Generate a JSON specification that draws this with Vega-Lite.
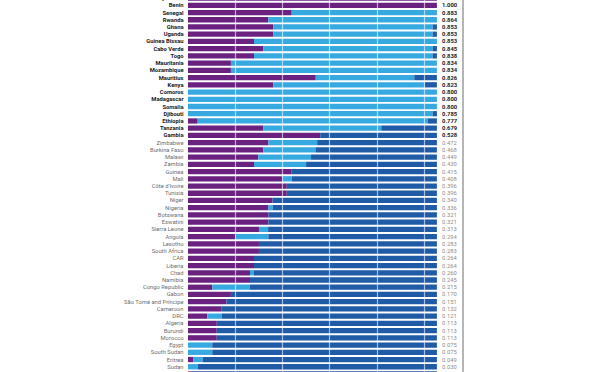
{
  "$schema": "https://vega.github.io/schema/vega-lite/v6.json",
  "width": 249,
  "height": 372,
  "autosize": {"type": "none"},
  "padding": {"left": 188, "right": 163, "top": 0, "bottom": 0},
  "background": "#ffffff",
  "config": {"view": {"stroke": null}},
  "data": {"values": [
    {"country": "Seychelles", "value": 1.000, "s1": 1.056, "s2": 0, "s3": 0},
    {"country": "Benin", "value": 1.000, "s1": 1.056, "s2": 0, "s3": 0},
    {"country": "Senegal", "value": 0.883, "s1": 0.440, "s2": 0.616, "s3": 0},
    {"country": "Rwanda", "value": 0.864, "s1": 0.341, "s2": 0.715, "s3": 0},
    {"country": "Ghana", "value": 0.853, "s1": 0.362, "s2": 0.676, "s3": 0.018},
    {"country": "Uganda", "value": 0.853, "s1": 0.362, "s2": 0.676, "s3": 0.018},
    {"country": "Guinea Bissau", "value": 0.853, "s1": 0.280, "s2": 0.776, "s3": 0},
    {"country": "Cabo Verde", "value": 0.845, "s1": 0.319, "s2": 0.719, "s3": 0.018},
    {"country": "Togo", "value": 0.838, "s1": 0.280, "s2": 0.758, "s3": 0.018},
    {"country": "Mauritania", "value": 0.834, "s1": 0.182, "s2": 0.874, "s3": 0},
    {"country": "Mozambique", "value": 0.834, "s1": 0.182, "s2": 0.874, "s3": 0},
    {"country": "Mauritius", "value": 0.826, "s1": 0.542, "s2": 0.418, "s3": 0.096},
    {"country": "Kenya", "value": 0.823, "s1": 0.362, "s2": 0.642, "s3": 0.052},
    {"country": "Comoros", "value": 0.800, "s1": 0, "s2": 1.056, "s3": 0},
    {"country": "Madagascar", "value": 0.800, "s1": 0, "s2": 1.056, "s3": 0},
    {"country": "Somalia", "value": 0.800, "s1": 0, "s2": 1.056, "s3": 0},
    {"country": "Djibouti", "value": 0.785, "s1": 0, "s2": 1.038, "s3": 0.018},
    {"country": "Ethiopia", "value": 0.777, "s1": 0.041, "s2": 0.977, "s3": 0.038},
    {"country": "Tanzania", "value": 0.679, "s1": 0.319, "s2": 0.501, "s3": 0.236},
    {"country": "Gambia", "value": 0.528, "s1": 0.561, "s2": 0, "s3": 0.495},
    {"country": "Zimbabwe", "value": 0.472, "s1": 0.341, "s2": 0.207, "s3": 0.508},
    {"country": "Burkina Faso", "value": 0.468, "s1": 0.319, "s2": 0.222, "s3": 0.515},
    {"country": "Malawi", "value": 0.449, "s1": 0.298, "s2": 0.224, "s3": 0.534},
    {"country": "Zambia", "value": 0.430, "s1": 0.280, "s2": 0.221, "s3": 0.555},
    {"country": "Guinea", "value": 0.415, "s1": 0.440, "s2": 0, "s3": 0.616},
    {"country": "Mali", "value": 0.408, "s1": 0.400, "s2": 0.040, "s3": 0.616},
    {"country": "Côte d'Ivoire", "value": 0.396, "s1": 0.419, "s2": 0, "s3": 0.637},
    {"country": "Tunisia", "value": 0.396, "s1": 0.419, "s2": 0, "s3": 0.637},
    {"country": "Niger", "value": 0.340, "s1": 0.359, "s2": 0, "s3": 0.697},
    {"country": "Nigeria", "value": 0.336, "s1": 0.341, "s2": 0.019, "s3": 0.696},
    {"country": "Botswana", "value": 0.321, "s1": 0.341, "s2": 0, "s3": 0.715},
    {"country": "Eswatini", "value": 0.321, "s1": 0.341, "s2": 0, "s3": 0.715},
    {"country": "Sierra Leone", "value": 0.313, "s1": 0.301, "s2": 0.039, "s3": 0.716},
    {"country": "Angola", "value": 0.294, "s1": 0.202, "s2": 0.139, "s3": 0.715},
    {"country": "Lesotho", "value": 0.283, "s1": 0.301, "s2": 0, "s3": 0.755},
    {"country": "South Africa", "value": 0.283, "s1": 0.301, "s2": 0, "s3": 0.755},
    {"country": "CAR", "value": 0.264, "s1": 0.280, "s2": 0, "s3": 0.776},
    {"country": "Liberia", "value": 0.264, "s1": 0.280, "s2": 0, "s3": 0.776},
    {"country": "Chad", "value": 0.260, "s1": 0.263, "s2": 0.017, "s3": 0.776},
    {"country": "Namibia", "value": 0.245, "s1": 0.263, "s2": 0, "s3": 0.793},
    {"country": "Congo Republic", "value": 0.215, "s1": 0.103, "s2": 0.160, "s3": 0.793},
    {"country": "Gabon", "value": 0.170, "s1": 0.182, "s2": 0, "s3": 0.874},
    {"country": "São Tomé and Príncipe", "value": 0.151, "s1": 0.163, "s2": 0, "s3": 0.893},
    {"country": "Cameroon", "value": 0.132, "s1": 0.143, "s2": 0, "s3": 0.913},
    {"country": "DRC", "value": 0.121, "s1": 0.082, "s2": 0.061, "s3": 0.913},
    {"country": "Algeria", "value": 0.113, "s1": 0.122, "s2": 0, "s3": 0.934},
    {"country": "Burundi", "value": 0.113, "s1": 0.122, "s2": 0, "s3": 0.934},
    {"country": "Morocco", "value": 0.113, "s1": 0.122, "s2": 0, "s3": 0.934},
    {"country": "Egypt", "value": 0.075, "s1": 0, "s2": 0.103, "s3": 0.953},
    {"country": "South Sudan", "value": 0.075, "s1": 0, "s2": 0.103, "s3": 0.953},
    {"country": "Eritrea", "value": 0.049, "s1": 0.022, "s2": 0.040, "s3": 0.994},
    {"country": "Sudan", "value": 0.030, "s1": 0, "s2": 0.041, "s3": 1.015},
    {"country": "Libya", "value": 0.015, "s1": 0.015, "s2": 0, "s3": 1.041}
  ]},
  "layer": [
    {
      "transform": [{"fold": ["s1", "s2", "s3"], "as": ["part", "share"]}],
      "mark": {"type": "bar"},
      "encoding": {
        "y": {
          "field": "country", "type": "nominal", "sort": null,
          "scale": {"range": [-5.55, 377.6], "paddingInner": 0.27, "paddingOuter": 0.135},
          "axis": null
        },
        "x": {
          "field": "share", "type": "quantitative", "stack": "zero",
          "scale": {"domain": [0, 1.0564], "nice": false, "zero": true},
          "axis": {
            "grid": true, "values": [0.2, 0.4, 0.6, 0.8, 1.0],
            "labels": false, "ticks": false, "domain": false, "title": null,
            "gridColor": "#ffffff", "gridOpacity": 0.6, "gridWidth": 1.2, "zindex": 1
          }
        },
        "color": {
          "field": "part", "type": "nominal",
          "scale": {"domain": ["s1", "s2", "s3"], "range": ["#6a2180", "#36a9e1", "#1f5ba6"]},
          "legend": null
        },
        "order": {"field": "part"}
      }
    },
    {
      "transform": [{"filter": "datum.value >= 0.5"}],
      "mark": {"type": "text", "align": "right", "baseline": "middle", "font": "Roboto", "fontSize": 5.8, "fontWeight": "bold", "color": "#1a1a1a"},
      "encoding": {
        "y": {"field": "country", "type": "nominal", "sort": null},
        "x": {"datum": -0.019},
        "text": {"field": "country"}
      }
    },
    {
      "transform": [{"filter": "datum.value < 0.5"}],
      "mark": {"type": "text", "align": "right", "baseline": "middle", "font": "Roboto", "fontSize": 5.8, "color": "#6e6e6e"},
      "encoding": {
        "y": {"field": "country", "type": "nominal", "sort": null},
        "x": {"datum": -0.019},
        "text": {"field": "country"}
      }
    },
    {
      "transform": [{"filter": "datum.value >= 0.5"}],
      "mark": {"type": "text", "align": "left", "baseline": "middle", "font": "Roboto", "fontSize": 5.8, "fontWeight": "bold", "color": "#1a1a1a"},
      "encoding": {
        "y": {"field": "country", "type": "nominal", "sort": null},
        "x": {"datum": 1.078},
        "text": {"field": "value", "type": "quantitative", "format": ".3f"}
      }
    },
    {
      "transform": [{"filter": "datum.value < 0.5"}],
      "mark": {"type": "text", "align": "left", "baseline": "middle", "font": "Roboto", "fontSize": 5.8, "color": "#8c8c8c"},
      "encoding": {
        "y": {"field": "country", "type": "nominal", "sort": null},
        "x": {"datum": 1.078},
        "text": {"field": "value", "type": "quantitative", "format": ".3f"}
      }
    },
    {
      "mark": {"type": "rule", "color": "#b5b5b5", "strokeWidth": 1},
      "encoding": {"x": {"datum": 1.1667}}
    }
  ]
}
